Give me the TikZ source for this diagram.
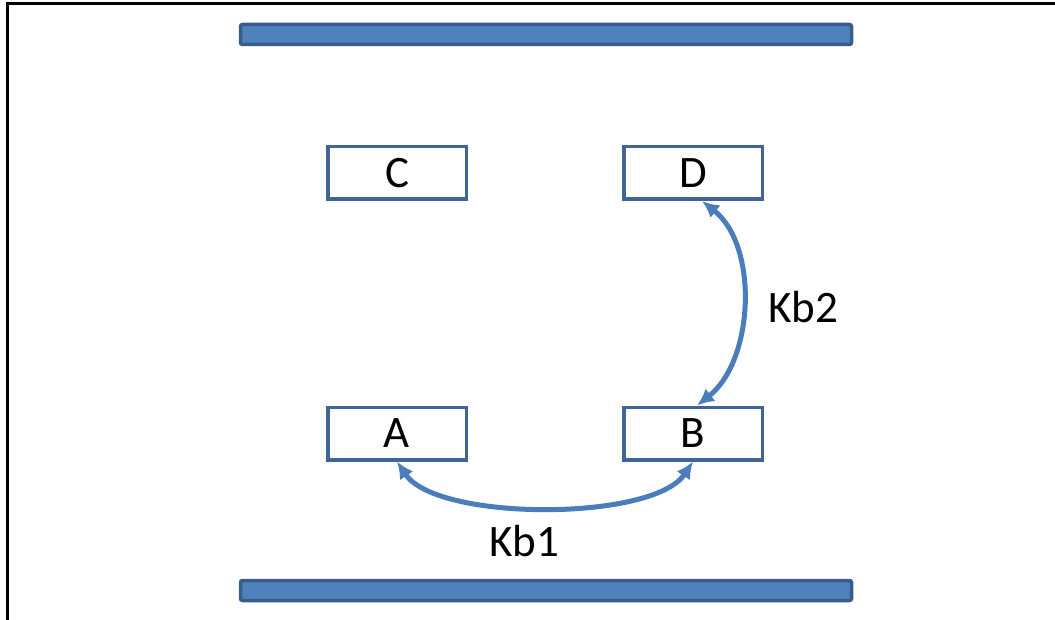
\documentclass[tikz,border=0pt]{standalone}
\usepackage{fontspec}
\setmainfont{Carlito}
\usetikzlibrary{arrows.meta}
\definecolor{barfill}{RGB}{79,129,189}
\definecolor{bardraw}{RGB}{56,93,138}
\definecolor{boxdraw}{RGB}{65,101,150}
\definecolor{linkblue}{RGB}{74,126,187}
\tikzset{
  stepbox/.style={draw=boxdraw, line width=3.5pt, fill=white, minimum width=138.5pt,
    minimum height=52.5pt, inner sep=0pt, font=\fontsize{45}{50}\selectfont},
  plate/.style={draw=bardraw, fill=barfill, line width=3.5pt, rounded corners=2pt,
    minimum width=611pt, minimum height=20pt, inner sep=0pt},
  link/.style={draw=linkblue, line width=5pt, {Latex[length=17pt,width=16pt]}-{Latex[length=17pt,width=16pt]}},
  ratelabel/.style={font=\fontsize{45}{50}\selectfont, inner sep=0pt}
}
\begin{document}
\begin{tikzpicture}[x=1pt,y=-1pt]
  \useasboundingbox (0,0) rectangle (1055,620);
  % frame lines on the left and top
  \draw[line width=3pt, line cap=rect] (7,625) -- (7,4) -- (1060,4);
  % plates
  \node[plate] (topbar) at (546,34.5) {};
  \node[plate] (bottombar) at (546,590.5) {};
  % states
  \node[stepbox] (C) at (397,173) {C};
  \node[stepbox] (D) at (693,173) {D};
  \node[stepbox] (A) at (397,433.5) {A};
  \node[stepbox] (B) at (693,433.5) {B};
  % transitions
  \draw[link] (A.south) .. controls +(40,60) and +(-40,60) .. (B.south);
  \draw[link] ([xshift=9]D.south) .. controls +(57,45) and +(57,-45) .. ([xshift=4]B.north);
  \node[ratelabel] (kb1) at (524,541) {Kb1};
  \node[ratelabel] (kb2) at (803,307) {Kb2};
\end{tikzpicture}
\end{document}
